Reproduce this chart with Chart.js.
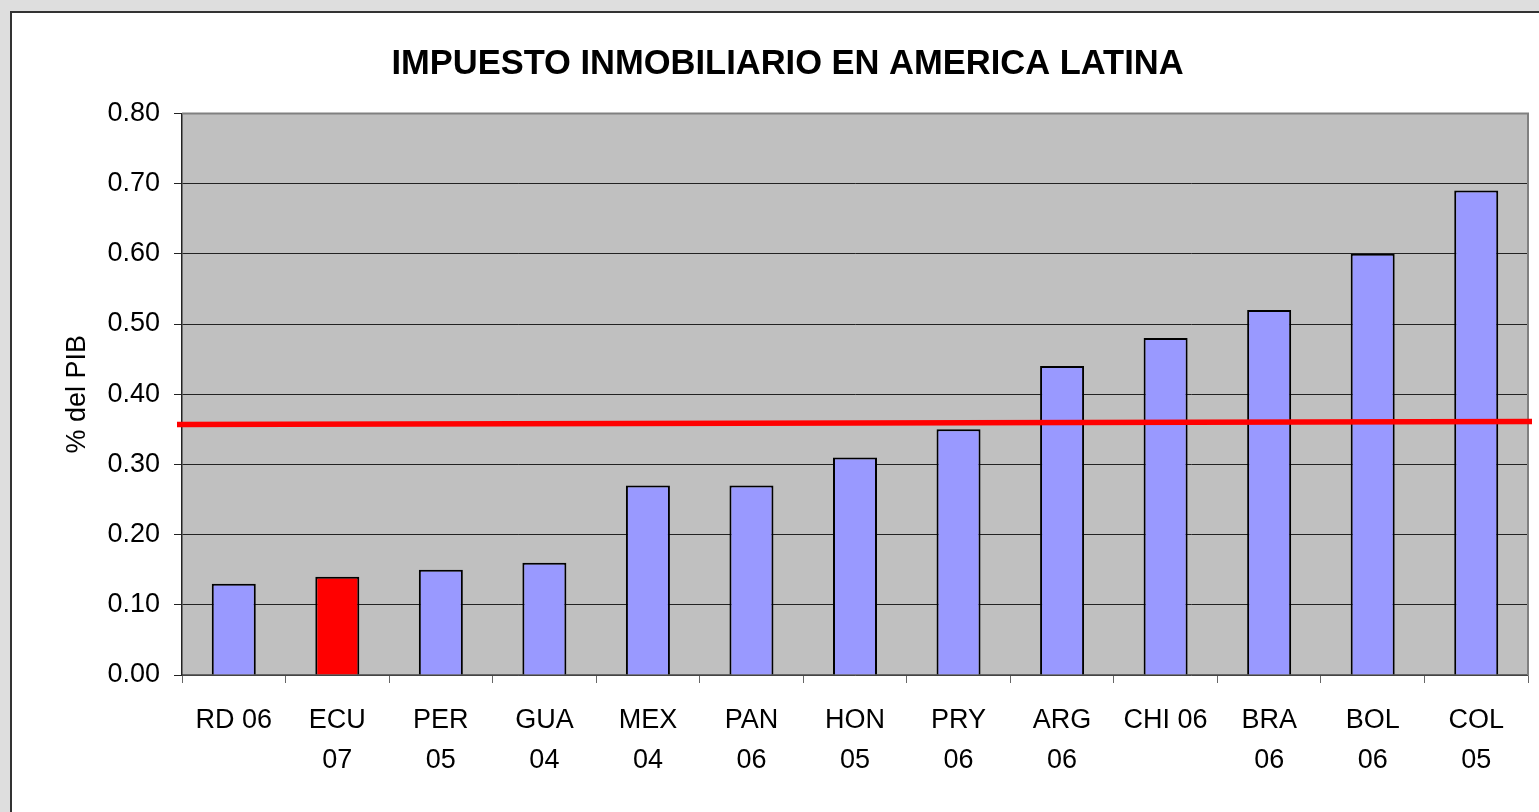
<!DOCTYPE html>
<html>
<head>
<meta charset="utf-8">
<script src="https://cdn.jsdelivr.net/npm/chart.js@4/dist/chart.umd.min.js"></script>
<style>
  html, body { margin: 0; padding: 0; background: #dedede; overflow: hidden; }
  #panel {
    position: absolute; left: 10px; top: 11px; width: 1600px; height: 900px;
    background: #ffffff; border-left: 2px solid #333; border-top: 2px solid #333;
  }
  #wrap { position: absolute; left: 0; top: 0; width: 1551px; height: 800px; }
</style>
</head>
<body>
<div id="panel"><div id="wrap"><canvas id="impuestoChart"></canvas></div></div>
<script>
const chartEl = document.getElementById("impuestoChart");

// DATA
const countries = ['RD 06', 'ECU 07', 'PER 05', 'GUA 04', 'MEX 04', 'PAN 06', 'HON 05', 'PRY 06', 'ARG 06', 'CHI 06', 'BRA 06', 'BOL 06', 'COL 05'];
const tickLabels = [['RD 06'], ['ECU', '07'], ['PER', '05'], ['GUA', '04'], ['MEX', '04'], ['PAN', '06'], ['HON', '05'], ['PRY', '06'], ['ARG', '06'], ['CHI 06'], ['BRA', '06'], ['BOL', '06'], ['COL', '05']];
const taxPctGdp = [0.13, 0.14, 0.15, 0.16, 0.27, 0.27, 0.31, 0.35, 0.44, 0.48, 0.52, 0.60, 0.69];
const averageLine = [0.357, 0.361]; // left end, right end
const highlighted = 'ECU 07';
const yTicks = [0, 0.1, 0.2, 0.3, 0.4, 0.5, 0.6, 0.7, 0.8];

const FONT = '"Liberation Sans", Arial, sans-serif';

// plot background, border and the red average line
const plotDecor = {
    id: 'plotDecor',
    beforeDraw(chart) {
        const { ctx, chartArea: a } = chart;
        ctx.save();
        ctx.fillStyle = '#c0c0c0';
        ctx.fillRect(a.left, a.top, a.right - a.left, a.bottom - a.top);
        ctx.restore();
    },
    afterDraw(chart) {
        const { ctx, chartArea: a, scales } = chart;
        ctx.save();
        ctx.strokeStyle = '#808080';
        ctx.lineWidth = 2;
        ctx.beginPath();
        ctx.moveTo(a.left, a.top);
        ctx.lineTo(a.right, a.top);
        ctx.lineTo(a.right, a.bottom);
        ctx.stroke();
        // average line, a bit wider than the plot
        ctx.strokeStyle = '#ff0000';
        ctx.lineWidth = 5.5;
        ctx.beginPath();
        ctx.moveTo(a.left - 5, scales.y.getPixelForValue(averageLine[0]));
        ctx.lineTo(a.right + 4, scales.y.getPixelForValue(averageLine[1]));
        ctx.stroke();
        ctx.restore();
    }
};

let impuestoChart = new Chart(chartEl, {
    type: 'bar',
    data: {
        labels: tickLabels,
        datasets: [{
            data: taxPctGdp,
            backgroundColor: countries.map(c => c === highlighted ? '#ff0000' : '#9999ff'),
            borderColor: '#000000',
            borderWidth: 2,
            categoryPercentage: 1,
            barPercentage: 0.425
        }]
    },
    options: {
        responsive: true,
        maintainAspectRatio: false,
        animation: false,
        layout: { padding: { left: 35, right: 35, top: 0, bottom: 0 } },
        plugins: {
            legend: { display: false },
            tooltip: { enabled: false },
            title: {
                display: true,
                text: 'IMPUESTO INMOBILIARIO EN AMERICA LATINA',
                color: '#000000',
                font: { family: FONT, size: 34.5, weight: 'bold', lineHeight: 1.2 },
                padding: { top: 31, bottom: 28 }
            }
        },
        scales: {
            x: {
                grid: { drawOnChartArea: false, drawTicks: true, tickLength: 8, color: '#666666', offset: true },
                border: { color: '#666666', width: 1.5 },
                ticks: {
                    color: '#000000',
                    font: { family: FONT, size: 27, lineHeight: 1.48 },
                    padding: 18,
                    maxRotation: 0,
                    autoSkip: false
                },
                afterFit(scale) { scale.height = 138; }
            },
            y: {
                min: 0,
                max: 0.8,
                afterBuildTicks(scale) { scale.ticks = yTicks.map(v => ({ value: v })); },
                grid: { color: '#222222', lineWidth: 1, tickLength: 8 },
                border: { color: '#222222', width: 1.5 },
                ticks: {
                    color: '#000000',
                    font: { family: FONT, size: 27 },
                    padding: 14,
                    callback: v => Number(v).toFixed(2)
                },
                title: {
                    display: true,
                    text: '% del PIB',
                    color: '#000000',
                    font: { family: FONT, size: 27, lineHeight: 1.2 },
                    padding: { top: 14, bottom: 0 }
                },
                afterFit(scale) { scale.width = 135; }
            }
        }
    },
    plugins: [plotDecor]
});
</script>
</body>
</html>
